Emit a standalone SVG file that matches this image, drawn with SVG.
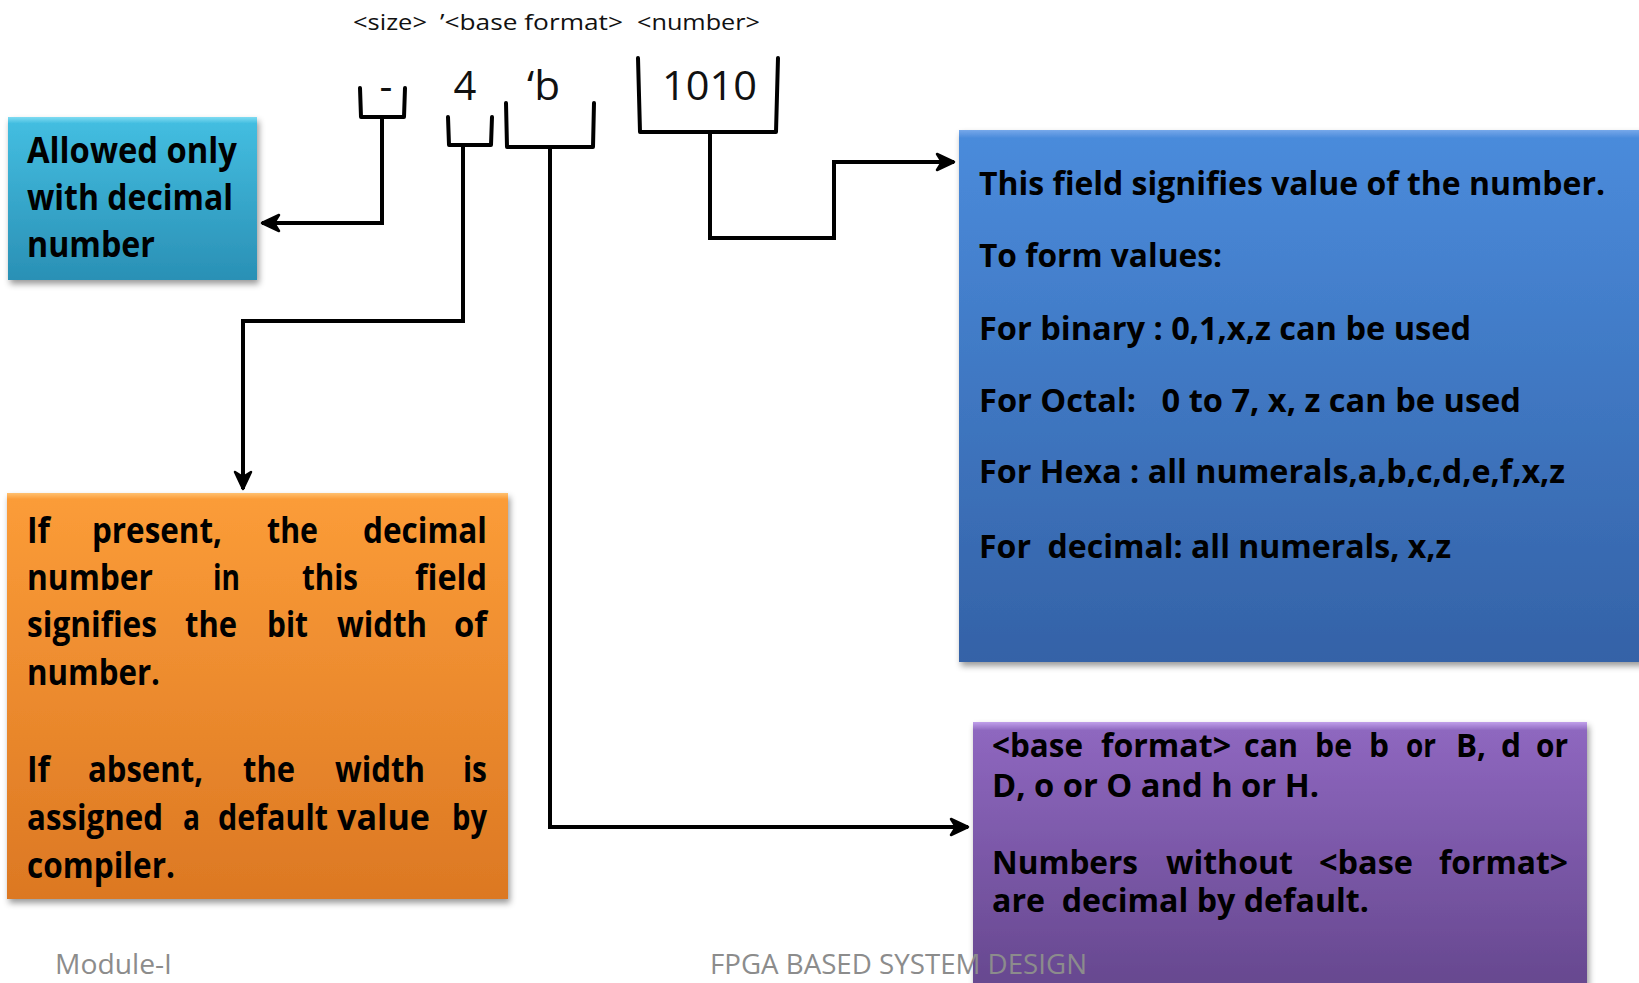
<svg xmlns="http://www.w3.org/2000/svg" width="1639" height="983" viewBox="0 0 1639 983">
<style>
.hdr{font-family:"Open Sans","Liberation Sans",sans-serif;font-size:22px;fill:#111}
.big{font-family:"Open Sans","Liberation Sans",sans-serif;font-size:40px;fill:#111}
.t{font-family:"Open Sans","Liberation Sans",sans-serif;font-weight:bold;fill:#000}
.t34{font-size:35px}
.t32{font-size:32px}
.br{fill:none;stroke:#000;stroke-width:4;stroke-linejoin:round;stroke-linecap:round}
.cn{fill:none;stroke:#000;stroke-width:4;stroke-linejoin:miter}
.ft{font-family:"Open Sans","Liberation Sans",sans-serif;font-size:28px;fill:#8c8c8c}
</style>
<defs>
<linearGradient id="gCyan" x1="0" y1="0" x2="0" y2="1">
<stop offset="0" stop-color="#7fdcf2"/><stop offset="0.04" stop-color="#43bde0"/><stop offset="1" stop-color="#2a90b5"/>
</linearGradient>
<linearGradient id="gBlue" x1="0" y1="0" x2="0" y2="1">
<stop offset="0" stop-color="#76a8ea"/><stop offset="0.015" stop-color="#4a8bdb"/><stop offset="1" stop-color="#3462a7"/>
</linearGradient>
<linearGradient id="gOrange" x1="0" y1="0" x2="0" y2="1">
<stop offset="0" stop-color="#ffc070"/><stop offset="0.015" stop-color="#fb9c38"/><stop offset="1" stop-color="#dc7823"/>
</linearGradient>
<linearGradient id="gPurple" x1="0" y1="0" x2="0" y2="1">
<stop offset="0" stop-color="#c0a0ea"/><stop offset="0.03" stop-color="#8e67bf"/><stop offset="1" stop-color="#64468c"/>
</linearGradient>
<filter id="sh" x="-10%" y="-10%" width="120%" height="130%">
<feDropShadow dx="2" dy="4" stdDeviation="3" flood-color="#000" flood-opacity="0.4"/>
</filter>
<marker id="arr" markerUnits="userSpaceOnUse" markerWidth="24" markerHeight="24" viewBox="0 0 24 24" refX="21" refY="12" orient="auto">
<path d="M4,4 L21,12 L4,20 L9,12 Z" fill="#000" stroke="#000" stroke-width="2.5" stroke-linejoin="round"/>
</marker>
</defs>
<rect width="1639" height="983" fill="#fff"/>

<g id="header">
<text class="hdr" x="353" y="30" textLength="74" lengthAdjust="spacingAndGlyphs">&lt;size&gt;</text>
<text class="hdr" x="440" y="30" textLength="183" lengthAdjust="spacingAndGlyphs">’&lt;base format&gt;</text>
<text class="hdr" x="637" y="30" textLength="123" lengthAdjust="spacingAndGlyphs">&lt;number&gt;</text>
<text class="big" x="386" y="100" text-anchor="middle">-</text>
<text class="big" x="465" y="100" text-anchor="middle">4</text>
<text class="big" x="527" y="100" textLength="33" lengthAdjust="spacingAndGlyphs">‘b</text>
<text class="big" x="662" y="100" textLength="95" lengthAdjust="spacingAndGlyphs">1010</text>
</g>

<g id="brackets">
<path class="br" d="M360,88 L361,117 L404,117 L405,88"/>
<path class="br" d="M448,117 L449,145 L491,145 L492,117"/>
<path class="br" d="M506,103 L507,147 L593,147 L594,103"/>
<path class="br" d="M638,58 L640,132 L776,132 L778,58"/>
</g>

<g id="connectors">
<path class="cn" d="M382,117 V223 H262" marker-end="url(#arr)"/>
<path class="cn" d="M463,145 V321 H243 V489" marker-end="url(#arr)"/>
<path class="cn" d="M550,147 V827 H968" marker-end="url(#arr)"/>
<path class="cn" d="M710,132 V238 H834 V162 H954" marker-end="url(#arr)"/>
</g>

<g id="node-decimal">
<rect x="8" y="117" width="249" height="163" fill="url(#gCyan)" filter="url(#sh)"/>
<text class="t t34" x="27" y="163" textLength="210" lengthAdjust="spacingAndGlyphs">Allowed only</text>
<text class="t t34" x="27" y="210" textLength="206" lengthAdjust="spacingAndGlyphs">with decimal</text>
<text class="t t34" x="27" y="257" textLength="128" lengthAdjust="spacingAndGlyphs">number</text>
</g>

<g id="node-size">
<rect x="7" y="493" width="501" height="406" fill="url(#gOrange)" filter="url(#sh)"/>
<text class="t t34" y="543">
<tspan x="27" textLength="23" lengthAdjust="spacingAndGlyphs">If</tspan>
<tspan x="92" textLength="130" lengthAdjust="spacingAndGlyphs">present,</tspan>
<tspan x="267" textLength="51" lengthAdjust="spacingAndGlyphs">the</tspan>
<tspan x="363" textLength="124" lengthAdjust="spacingAndGlyphs">decimal</tspan>
</text>
<text class="t t34" y="590">
<tspan x="27" textLength="126" lengthAdjust="spacingAndGlyphs">number</tspan>
<tspan x="213" textLength="27" lengthAdjust="spacingAndGlyphs">in</tspan>
<tspan x="302" textLength="56" lengthAdjust="spacingAndGlyphs">this</tspan>
<tspan x="415" textLength="72" lengthAdjust="spacingAndGlyphs">field</tspan>
</text>
<text class="t t34" y="637">
<tspan x="27" textLength="130" lengthAdjust="spacingAndGlyphs">signifies</tspan>
<tspan x="185" textLength="52" lengthAdjust="spacingAndGlyphs">the</tspan>
<tspan x="267" textLength="41" lengthAdjust="spacingAndGlyphs">bit</tspan>
<tspan x="337" textLength="90" lengthAdjust="spacingAndGlyphs">width</tspan>
<tspan x="454" textLength="33" lengthAdjust="spacingAndGlyphs">of</tspan>
</text>
<text class="t t34" x="27" y="685" textLength="133" lengthAdjust="spacingAndGlyphs">number.</text>
<text class="t t34" y="782">
<tspan x="27" textLength="23" lengthAdjust="spacingAndGlyphs">If</tspan>
<tspan x="88" textLength="115" lengthAdjust="spacingAndGlyphs">absent,</tspan>
<tspan x="243" textLength="52" lengthAdjust="spacingAndGlyphs">the</tspan>
<tspan x="335" textLength="90" lengthAdjust="spacingAndGlyphs">width</tspan>
<tspan x="463" textLength="24" lengthAdjust="spacingAndGlyphs">is</tspan>
</text>
<text class="t t34" y="830">
<tspan x="27" textLength="136" lengthAdjust="spacingAndGlyphs">assigned</tspan>
<tspan x="183" textLength="17" lengthAdjust="spacingAndGlyphs">a</tspan>
<tspan x="218" textLength="110" lengthAdjust="spacingAndGlyphs">default</tspan>
<tspan x="337" textLength="93" lengthAdjust="spacingAndGlyphs">value</tspan>
<tspan x="452" textLength="35" lengthAdjust="spacingAndGlyphs">by</tspan>
</text>
<text class="t t34" x="27" y="878" textLength="148" lengthAdjust="spacingAndGlyphs">compiler.</text>
</g>

<g id="node-number">
<rect x="959" y="130" width="700" height="532" fill="url(#gBlue)" filter="url(#sh)"/>
<text class="t t32" x="979" y="195" textLength="626" lengthAdjust="spacingAndGlyphs">This field signifies value of the number.</text>
<text class="t t32" x="979" y="267" textLength="243" lengthAdjust="spacingAndGlyphs">To form values:</text>
<text class="t t32" x="979" y="340" textLength="492" lengthAdjust="spacingAndGlyphs">For binary : 0,1,x,z can be used</text>
<text class="t t32" x="979" y="412" textLength="542" lengthAdjust="spacingAndGlyphs" xml:space="preserve">For Octal:   0 to 7, x, z can be used</text>
<text class="t t32" x="979" y="483" textLength="586" lengthAdjust="spacingAndGlyphs">For Hexa : all numerals,a,b,c,d,e,f,x,z</text>
<text class="t t32" x="979" y="558" textLength="472" lengthAdjust="spacingAndGlyphs" xml:space="preserve">For  decimal: all numerals, x,z</text>
</g>

<g id="node-base">
<rect x="973" y="722" width="614" height="280" fill="url(#gPurple)" filter="url(#sh)"/>
<text class="t t32" y="757">
<tspan x="992" textLength="91" lengthAdjust="spacingAndGlyphs">&lt;base</tspan>
<tspan x="1101" textLength="130" lengthAdjust="spacingAndGlyphs">format&gt;</tspan>
<tspan x="1244" textLength="54" lengthAdjust="spacingAndGlyphs">can</tspan>
<tspan x="1315" textLength="37" lengthAdjust="spacingAndGlyphs">be</tspan>
<tspan x="1369" textLength="20" lengthAdjust="spacingAndGlyphs">b</tspan>
<tspan x="1406" textLength="30" lengthAdjust="spacingAndGlyphs">or</tspan>
<tspan x="1456" textLength="30" lengthAdjust="spacingAndGlyphs">B,</tspan>
<tspan x="1501" textLength="20" lengthAdjust="spacingAndGlyphs">d</tspan>
<tspan x="1536" textLength="32" lengthAdjust="spacingAndGlyphs">or</tspan>
</text>
<text class="t t32" x="992" y="797" textLength="327" lengthAdjust="spacingAndGlyphs">D, o or O and h or H.</text>
<text class="t t32" y="874">
<tspan x="992" textLength="146" lengthAdjust="spacingAndGlyphs">Numbers</tspan>
<tspan x="1166" textLength="127" lengthAdjust="spacingAndGlyphs">without</tspan>
<tspan x="1319" textLength="94" lengthAdjust="spacingAndGlyphs">&lt;base</tspan>
<tspan x="1439" textLength="129" lengthAdjust="spacingAndGlyphs">format&gt;</tspan>
</text>
<text class="t t32" x="992" y="912" textLength="377" lengthAdjust="spacingAndGlyphs" xml:space="preserve">are  decimal by default.</text>
</g>

<g id="footer">
<text class="ft" x="55" y="974" textLength="117" lengthAdjust="spacingAndGlyphs">Module-I</text>
<text class="ft" x="710" y="974" textLength="377" lengthAdjust="spacingAndGlyphs">FPGA BASED SYSTEM DESIGN</text>
</g>
</svg>
